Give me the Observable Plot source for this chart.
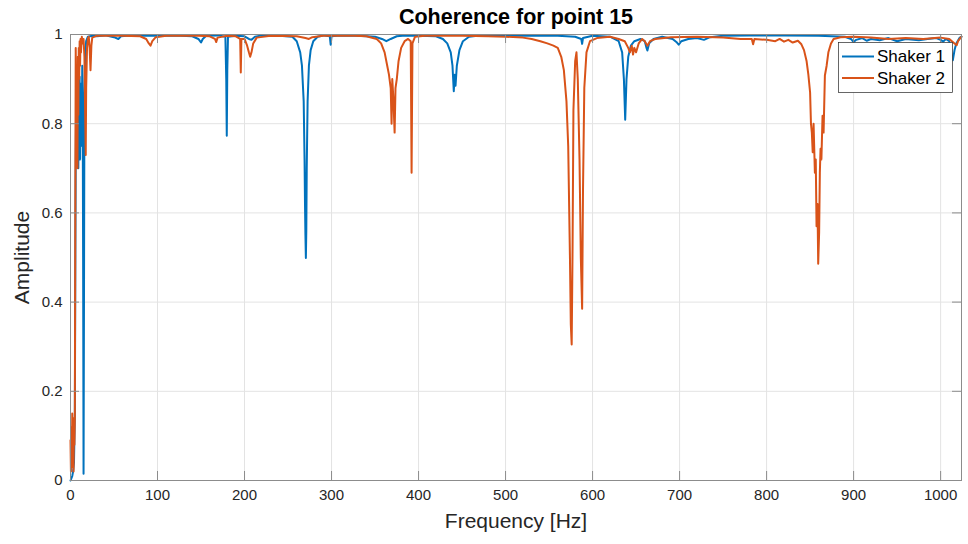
<!DOCTYPE html>
<html><head><meta charset="utf-8">
<script src="https://cdn.jsdelivr.net/npm/d3@7"></script>
<script src="https://cdn.jsdelivr.net/npm/@observablehq/plot@0.6"></script>
<style>body{margin:0;background:#fff} #chart{width:968px;height:544px}</style>
</head><body><div id="chart"></div>
<script>
const titleText = "Coherence for point 15";
const xLabel = "Frequency [Hz]";
const yLabel = "Amplitude";
const seriesNames = ["Shaker 1", "Shaker 2"];
const xTicks = [0, 100, 200, 300, 400, 500, 600, 700, 800, 900, 1000];
const yTicks = [0, 0.2, 0.4, 0.6, 0.8, 1];

const shaker1Freq = [0,1,2,3,4,5,5.5,6,6.5,7,7.5,8,8.5,9,9.5,10,10.5,11,11.5,12,12.5,13,13.5,14,14.5,15,15.5,16,17,18,20,25,30,40,50,55,58,65,80,100,120,140,147,150,152,156,170,178,179,179.6,180.2,181,190,200,205,208,212,220,240,255,260,264,266,268,269,269.5,270,270.5,271,271.5,272.5,274,276,279,284,292,298,299,300,310,330,350,358,363,368,375,385,400,420,428,433,437,439,440.5,441.5,442.5,444,447,451,458,470,500,530,560,580,587,588,589,600,620,630,634,636,637.5,639,641,644,648,655,660,662,663,665,670,680,692,697,699,702,710,720,728,735,750,780,820,860,890,897,900,903,910,915,920,930,940,950,960,975,985,995,1000,1003,1006,1010,1012,1014,1016,1018,1022,1024];
const shaker1Amp = [0,0.005,0.01,0.02,0.04,0.15,0.45,0.72,0.85,0.75,0.9,0.8,0.91,0.7,0.88,0.78,0.905,0.72,0.86,0.75,0.89,0.8,0.93,0.85,0.5,0.015,0.4,0.85,0.96,0.985,0.995,0.997,0.996,0.998,0.994,0.99,0.996,0.997,0.998,0.997,0.998,0.996,0.99,0.982,0.99,0.997,0.998,0.995,0.9,0.773,0.92,0.995,0.997,0.996,0.99,0.988,0.995,0.998,0.997,0.995,0.985,0.96,0.93,0.85,0.72,0.62,0.55,0.499,0.56,0.7,0.85,0.93,0.965,0.985,0.995,0.998,0.996,0.977,0.996,0.998,0.997,0.995,0.99,0.985,0.99,0.996,0.998,0.997,0.996,0.99,0.98,0.96,0.93,0.873,0.91,0.885,0.93,0.965,0.985,0.995,0.998,0.997,0.998,0.997,0.995,0.99,0.979,0.992,0.997,0.995,0.985,0.96,0.9,0.809,0.9,0.95,0.975,0.985,0.99,0.985,0.97,0.964,0.98,0.99,0.995,0.99,0.982,0.977,0.985,0.99,0.992,0.988,0.994,0.997,0.998,0.998,0.997,0.995,0.99,0.983,0.988,0.992,0.986,0.99,0.987,0.992,0.985,0.99,0.987,0.99,0.992,0.988,0.984,0.99,0.985,0.96,0.942,0.965,0.98,0.993,0.995];

const shaker2Freq = [0,0.5,1,1.5,2,2.5,3,3.5,4,4.5,5,5.5,6,6.5,7,7.5,8,8.5,9,9.5,10,10.5,11,11.5,12,13,14,15,16,17,17.5,18,19,20,21,22,23,24,25,30,40,60,80,87,90,92,94,98,110,140,160,166,167.5,169,180,190,195,195.7,196.4,200,203,205,206.5,208,210,214,230,260,270,274,278,290,320,340,352,357,361,364,366,368,369,369.8,371,372.5,373.5,375,377,380,384,388,391,392,393,396,410,450,480,500,520,530,540,548,555,560,564,567,570,572,574,575,576,577,578,580,581.5,583,585,586.5,588,589,590.5,593,597,605,620,630,637,641,643,645,646.5,648,650,653,657,660,663,666,672,690,720,750,770,783,784.5,786,800,810,815,820,825,830,836,840,843,846,848,850,851,852,853,854,855.5,856.5,857.4,858.5,859.3,860.4,861.2,862,863,864.3,865.5,867,869,871,874,877,885,900,920,940,960,980,1000,1010,1016,1018.5,1020,1024];
const shaker2Amp = [0.09,0.02,0.12,0.03,0.15,0.06,0.14,0.02,0.13,0.08,0.14,0.6,0.97,0.85,0.72,0.88,0.7,0.95,0.82,0.97,0.9,0.985,0.93,0.99,0.96,0.995,0.98,0.99,0.95,0.8,0.73,0.88,0.97,0.99,0.995,0.97,0.92,0.975,0.993,0.997,0.998,0.997,0.996,0.99,0.98,0.975,0.985,0.994,0.997,0.998,0.996,0.99,0.983,0.993,0.997,0.996,0.99,0.915,0.99,0.99,0.975,0.96,0.95,0.96,0.98,0.993,0.997,0.996,0.992,0.99,0.994,0.997,0.998,0.996,0.99,0.98,0.96,0.93,0.91,0.88,0.8,0.9,0.86,0.78,0.88,0.9,0.94,0.97,0.985,0.99,0.985,0.69,0.98,0.995,0.998,0.997,0.996,0.995,0.993,0.99,0.985,0.98,0.975,0.97,0.95,0.92,0.85,0.75,0.5,0.35,0.305,0.52,0.83,0.94,0.96,0.9,0.72,0.5,0.385,0.65,0.88,0.96,0.985,0.992,0.995,0.99,0.985,0.97,0.96,0.975,0.955,0.97,0.96,0.98,0.99,0.985,0.975,0.985,0.99,0.994,0.995,0.993,0.99,0.99,0.978,0.99,0.988,0.985,0.99,0.984,0.988,0.982,0.986,0.978,0.965,0.94,0.91,0.87,0.8,0.78,0.736,0.8,0.69,0.72,0.57,0.62,0.486,0.557,0.69,0.744,0.72,0.818,0.78,0.908,0.93,0.96,0.98,0.99,0.994,0.995,0.993,0.99,0.992,0.99,0.993,0.99,0.98,0.976,0.985,0.995];

const colors = ["#0072BD", "#D95319"];
const s1 = shaker1Freq.map((f, i) => ({f, a: shaker1Amp[i]}));
const s2 = shaker2Freq.map((f, i) => ({f, a: shaker2Amp[i]}));

const W = 968, H = 544, mL = 70, mR = 7, mT = 34, mB = 64;
const plotW = W - mL - mR, plotH = H - mT - mB;
const tickLen = 9;
const axisColor = "#8c8c8c";
const font = "'Liberation Sans', Arial, Helvetica, sans-serif";

const plot = Plot.plot({
  width: W, height: H,
  marginLeft: mL, marginRight: mR, marginTop: mT, marginBottom: mB,
  style: {fontFamily: font, background: "#fff", color: "#262626"},
  x: {domain: [0, 1024]},
  y: {domain: [0, 1]},
  marks: [
    Plot.gridX(xTicks, {stroke: "#e3e3e3", strokeOpacity: 1}),
    Plot.gridY(yTicks, {stroke: "#e3e3e3", strokeOpacity: 1}),
    Plot.line(s1, {x: "f", y: "a", stroke: colors[0], strokeWidth: 2}),
    Plot.line(s2, {x: "f", y: "a", stroke: colors[1], strokeWidth: 2}),
    Plot.tickX(xTicks, {x: d => d, insetTop: plotH - tickLen, stroke: axisColor}),
    Plot.tickX(xTicks, {x: d => d, insetBottom: plotH - tickLen, stroke: axisColor}),
    Plot.tickY(yTicks, {y: d => d, insetRight: plotW - tickLen, stroke: axisColor}),
    Plot.tickY(yTicks, {y: d => d, insetLeft: plotW - tickLen, stroke: axisColor}),
    Plot.frame({stroke: axisColor}),
    Plot.axisX(xTicks, {tickSize: 0, tickPadding: 9, fontSize: 15, label: null, fill: "#262626", tickFormat: d => String(d)}),
    Plot.axisY(yTicks, {tickSize: 0, tickPadding: 8, fontSize: 15, label: null, fill: "#262626", tickFormat: d => String(d)}),
    Plot.text([xLabel], {text: d => d, frameAnchor: "bottom", textAnchor: "middle", lineAnchor: "middle", dy: 41, fontSize: 21, fill: "#262626"}),
    Plot.text([yLabel], {text: d => d, frameAnchor: "left", textAnchor: "middle", lineAnchor: "middle", dx: -48, rotate: -90, fontSize: 21, fill: "#262626"}),
    Plot.text([titleText], {text: d => d, frameAnchor: "top", textAnchor: "middle", lineAnchor: "middle", dy: -17, fontSize: 21.5, fontWeight: "bold", fill: "#000"})
  ]
});

const svg = d3.select(plot);
const lg = svg.append("g").attr("font-family", font).attr("font-size", 17).attr("text-anchor", "start");
lg.append("rect").attr("x", 838.5).attr("y", 42.5).attr("width", 114).attr("height", 50)
  .attr("fill", "#fff").attr("stroke", "#262626").attr("stroke-width", 0.7);
seriesNames.forEach((name, i) => {
  const y = 56.5 + i * 21.5;
  lg.append("line").attr("x1", 842).attr("x2", 874).attr("y1", y).attr("y2", y)
    .attr("stroke", colors[i]).attr("stroke-width", 2);
  lg.append("text").attr("x", 877).attr("y", y).attr("dy", "0.35em").attr("fill", "#000")
    .attr("text-anchor", "start").text(name);
});

document.getElementById("chart").appendChild(plot);
</script>
</body></html>
